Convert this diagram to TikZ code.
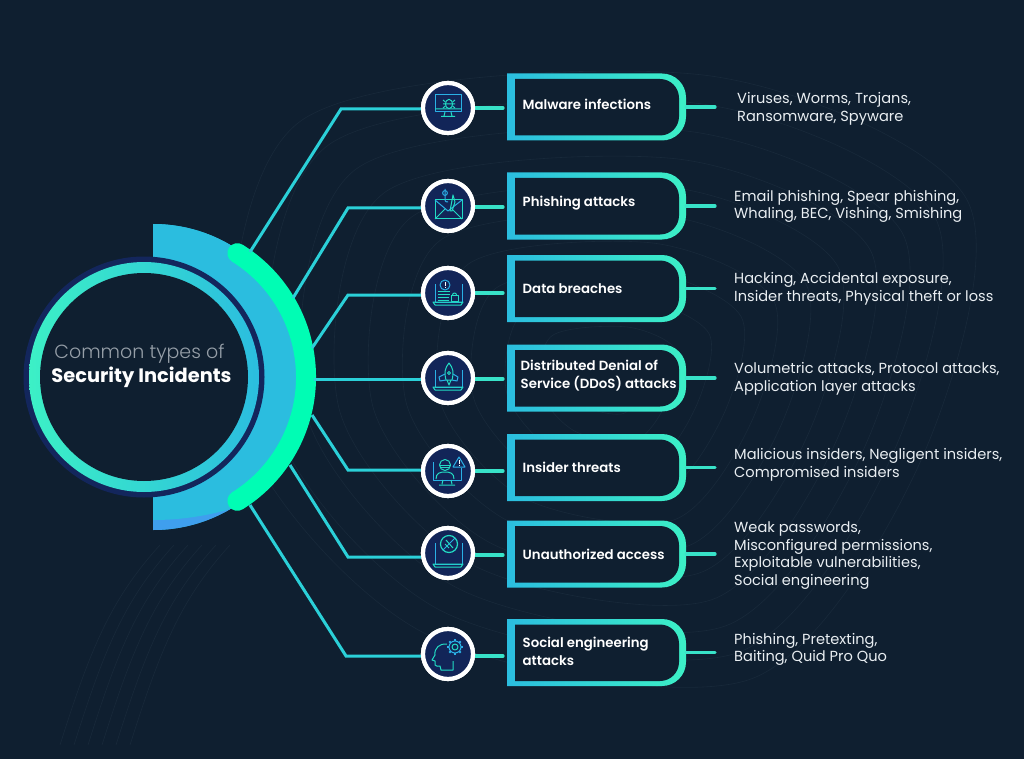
\documentclass[tikz,border=0pt]{standalone}
\usepackage{fontspec}
\setmainfont{Poppins}
\newfontfamily\poplight{Poppins Light}
\newfontfamily\popsemi{Poppins SemiBold}
\newfontfamily\popbold{Poppins Bold}
\usetikzlibrary{positioning}
\definecolor{bgdark}{HTML}{0F1F30}
\definecolor{contourgrey}{HTML}{18293A}
\definecolor{navyring}{HTML}{13265C}
\definecolor{iconfill}{HTML}{122558}
\definecolor{cyanbar}{HTML}{2BBDDF}
\definecolor{greenbar}{HTML}{3CF0C6}
\definecolor{bluetip}{HTML}{3F9FEE}
\definecolor{greenarc}{HTML}{00FDB4}
\definecolor{linkcyan}{HTML}{2BD0D8}
\definecolor{stubgreen}{HTML}{38E2C8}
\definecolor{icontone}{HTML}{22DCC4}
\definecolor{iconblue}{HTML}{2AB0E6}
\definecolor{softwhite}{HTML}{E9EEF2}
\tikzset{
  linkline/.style={linkcyan,line width=3pt},
  stubline/.style={stubgreen,line width=3.2pt,line cap=round},
  iconnode/.style={circle,draw=white,line width=4.2pt,fill=iconfill,minimum size=50pt,inner sep=0pt},
  boxspot/.style={minimum width=179pt,minimum height=67pt,inner sep=0pt},
  boxlabel/.style={anchor=west,align=left,white,font=\popsemi\fontsize{13.3}{17.5}\selectfont,inner sep=0pt},
  detail/.style={anchor=west,align=left,softwhite,font=\fontsize{14.6}{17.5}\selectfont,inner sep=0pt},
  ico/.style={icontone,line width=1pt,line join=round},
  icob/.style={iconblue,line width=1pt,line join=round},
}
% outlined box, square on the left and round on the right
\newcommand{\incidentbox}[1]{
  \shade[left color=cyanbar,middle color=cyanbar,right color=greenbar]
    (507,#1-33.5) [rounded corners=24] -- (686,#1-33.5) -- (686,#1+33.5) [sharp corners] -- (507,#1+33.5) -- cycle;
  \fill[bgdark] (515,#1-28) [rounded corners=19] -- (679,#1-28) -- (679,#1+28.5) [sharp corners] -- (515,#1+28.5) -- cycle;
}
\newcommand{\laptopicon}[2]{
  \draw[icob] (-13,#1) -- (-13,#2-2) -- (14,#2-2) -- (14,#1);
  \draw[ico] (-15,#2-2) -- (15,#2-2) -- (13,#2+1) -- (-13,#2+1) -- cycle;
}
\begin{document}
\begin{tikzpicture}[x=1pt,y=-1pt]
\useasboundingbox (0,0) rectangle (1024,759);
\fill[bgdark] (0,0) rectangle (1024,759);
% faint contours behind everything
\foreach \s in {30,58,...,310}
  \draw[contourgrey,line width=.6pt,shift={(610,385)},scale=\s] plot[smooth cycle] coordinates {(-1,-.85) (.3,-1) (1.15,-.6) (1,.25) (.45,.95) (-.6,.8) (-1.2,.1)};
\foreach \s in {0,14,...,70}
  \draw[contourgrey,line width=.6pt] (60+\s,745) .. controls (90+\s,650) and (110+\s,600) .. (160+\s,545);

% connectors from the hub
\coordinate (s1) at (250,252);
\coordinate (s2) at (293,298);
\coordinate (s3) at (312,348);
\coordinate (s4) at (314,379);
\coordinate (s5) at (312,415);
\coordinate (s6) at (290,465);
\coordinate (s7) at (250,505);
\coordinate (k1) at (341,109);
\coordinate (k2) at (348,208);
\coordinate (k3) at (348,295);
\coordinate (k4) at (348,379);
\coordinate (k5) at (348,470);
\coordinate (k6) at (348,557);
\coordinate (k7) at (346,656);

% hub
\fill[cyanbar] (153,224) arc[start angle=-90,end angle=90,radius=153] -- cycle;
\begin{scope}
  \clip (153,224) arc[start angle=-90,end angle=90,radius=153] -- cycle;
  \fill[bluetip] (140,500) rectangle (240,535);
  \fill[cyanbar] (153,245) circle (275);
\end{scope}
\draw[greenarc,line width=20pt,line cap=round] (160,377) ++(-58:146) arc[start angle=-58,end angle=58,radius=146];
\fill[navyring] (144,377) circle (120.5);
\shade[left color=greenbar,right color=cyanbar] (144,377) circle (115);
\fill[bgdark] (144,377) circle (104);
\node[softwhite!62!bgdark,font=\poplight\fontsize{19}{24}\selectfont,inner sep=0pt] (hubtop) at (139.5,353.5) {Common types of};
\node[white,font=\popbold\fontsize{19.4}{24}\selectfont,inner sep=0pt] (hubname) at (141.5,377) {Security Incidents};

% icons in their circles
\node[iconnode] (ic1) at (448,108) {};
\node[iconnode] (ic2) at (448,206) {};
\node[iconnode] (ic3) at (448,293) {};
\node[iconnode] (ic4) at (448,378) {};
\node[iconnode] (ic5) at (448,471) {};
\node[iconnode] (ic6) at (448,553) {};
\node[iconnode] (ic7) at (448,654) {};

% boxes, stubs and texts
\foreach \n/\by/\sy/\ly/\ty/\lab/\txt in {
  1/107/108/104.5/109/{Malware infections}/{\hspace{3pt}Viruses, Worms, Trojans,\\\hspace{3pt}Ransomware, Spyware},
  2/206/207/203.5/206.5/{Phishing attacks}/{Email phishing, Spear phishing,\\Whaling, BEC, Vishing, Smishing},
  3/288.5/293/288.5/289/{Data breaches}/{Hacking, Accidental exposure,\\Insider threats, Physical theft or loss},
  4/378/379/375.5/379/{\hspace{-2pt}Distributed Denial of\\\hspace{-2pt}Service (DDoS) attacks}/{Volumetric attacks, Protocol attacks,\\Application layer attacks},
  5/467.5/471/467.5/465/{Insider threats}/{Malicious insiders, Negligent insiders,\\Compromised insiders},
  6/554/555/554.5/555.5/{Unauthorized access}/{Weak passwords,\\Misconfigured permissions,\\Exploitable vulnerabilities,\\Social engineering},
  7/652.5/656/651.5/649.5/{Social engineering\\attacks}/{Phishing, Pretexting,\\Baiting, Quid Pro Quo}}
{
  \incidentbox{\by}
  \node[boxspot] (bx\n) at (596.5,\by) {};
  \coordinate (in\n) at (503,\sy);
  \coordinate (tp\n) at (715,\by);
  \draw[stubline] (ic\n.east |- in\n) -- (in\n);
  \draw[stubline] (bx\n.east) -- (tp\n);
  \node[boxlabel] (lb\n) at (522.5,\ly) {\lab};
  \node[detail] (dt\n) at (734,\ty) {\txt};
}
\foreach \n in {1,...,7} {
  \draw[linkline] (s\n) -- (k\n) -- (k\n -| ic\n.west);
}
\foreach \n in {1,...,7} {
  \node[iconnode] at (ic\n) {};
}

% monitor with bug
\begin{scope}[shift={(ic1.center)}]
  \draw[icob] (-13,-13) rectangle (13,4);
  \draw[ico] (-13,1) -- (13,1) (-3,4) -- (-4,8) (3,4) -- (4,8) (-7,8.5) -- (7,8.5);
  \draw[ico] (1,-4) ellipse (3.6 and 4.6);
  \draw[ico] (-2.6,-4) -- (4.6,-4) (-2.6,-6) -- (-5,-8) (4.6,-6) -- (7,-8) (-2.6,-4) -- (-5,-4) (4.6,-4) -- (7,-4) (-2.6,-2) -- (-5,0) (4.6,-2) -- (7,0);
\end{scope}
% envelope with hook and pen
\begin{scope}[shift={(ic2.center)}]
  \draw[ico] (-13,-6) -- (14,-6) -- (14,13) -- (-13,13) -- cycle;
  \draw[icob] (-13,-6) -- (0,5) -- (14,-6);
  \draw[ico] (-13,13) -- (-3,3) (14,13) -- (4,3);
  \draw[icob] (-3,-17) -- (-3,-6) (-3,-6) arc[start angle=180,end angle=60,radius=2];
  \draw[icob] (-3,-13) circle (2.4);
  \draw[ico] (2,5) -- (5,-11) -- (7,-4) -- (4,5) -- cycle;
\end{scope}
% laptop with alert and lock
\begin{scope}[shift={(ic3.center)}]
  \laptopicon{-9}{11}
  \fill[iconfill] (-3,-8) circle (5);
  \draw[icob] (-3,-8) circle (5);
  \draw[white,line width=.9pt] (-3,-11) -- (-3,-7.5) (-3,-6.2) -- (-3,-5.4);
  \draw[ico] (-10,-2) -- (2,-2) (-10,1) -- (2,1) (-10,4) -- (1,4) (-10,7) -- (1,7);
  \draw[ico] (3,2) rectangle (10,8);
  \draw[ico] (4.5,2) arc[start angle=180,end angle=360,radius=2];
\end{scope}
% laptop with rocket
\begin{scope}[shift={(ic4.center)}]
  \laptopicon{-8}{11}
  \fill[iconfill] (-4,-10) rectangle (6,8);
  \draw[ico] (1,-15) .. controls (-3,-10) and (-4,-6) .. (-2,2) -- (4,2) .. controls (6,-6) and (5,-10) .. (1,-15) -- cycle;
  \draw[icob] (-3,-4) -- (-9,-1) -- (-8,3) -- (-2,2) (5,-4) -- (10,-1) -- (9,3) -- (4,2);
  \draw[ico] (-1,2) -- (1,7) -- (3,2);
  \draw[ico] (1,-5) circle (1.5);
\end{scope}
% monitor with hooded person and warning
\begin{scope}[shift={(ic5.center)}]
  \draw[icob] (-15,-9) -- (-15,9) -- (13,9) -- (13,-3);
  \draw[ico] (-5,9) -- (-6,13) (3,9) -- (4,13) (-9,14) -- (7,14);
  \draw[ico] (-3,-6) circle (5.5);
  \draw[ico] (-8.5,-6) -- (2.5,-6) (-7,-3.5) -- (1,-3.5);
  \draw[ico] (-12,8) .. controls (-12,2) and (-8,1) .. (-3,1) .. controls (2,1) and (6,2) .. (6,8);
  \draw[icob] (11,-14) -- (5,-4) -- (17,-4) -- cycle;
  \draw[white,line width=.9pt] (11,-11) -- (11,-7.5) (11,-6.2) -- (11,-5.2);
\end{scope}
% laptop with barred circle
\begin{scope}[shift={(ic6.center)}]
  \laptopicon{-10}{13}
  \fill[iconfill] (1,-9) circle (8.5);
  \draw[ico,line width=1.2pt] (1,-9) circle (8.5);
  \draw[icob] (-5,-3) -- (7,-15);
  \draw[ico] (-2,-13) -- (5,-5) (-3,-9) -- (1,-5);
\end{scope}
% head with gear
\begin{scope}[shift={(ic7.center)}]
  \draw[ico] (-1,-10) .. controls (-8,-11) and (-14,-6) .. (-13,1) -- (-16,6) -- (-13,7) -- (-13,11) .. controls (-12,13) and (-10,12) .. (-8,12) -- (-7,16) -- (5,16) -- (5,7);
  \draw[icob] (7,-7) circle (6);
  \foreach \a in {0,45,...,315}
    \draw[icob,line width=2pt] (7,-7) ++(\a:6) -- ++(\a:2);
  \draw[ico] (7,-7) circle (3);
\end{scope}
\end{tikzpicture}
\end{document}
